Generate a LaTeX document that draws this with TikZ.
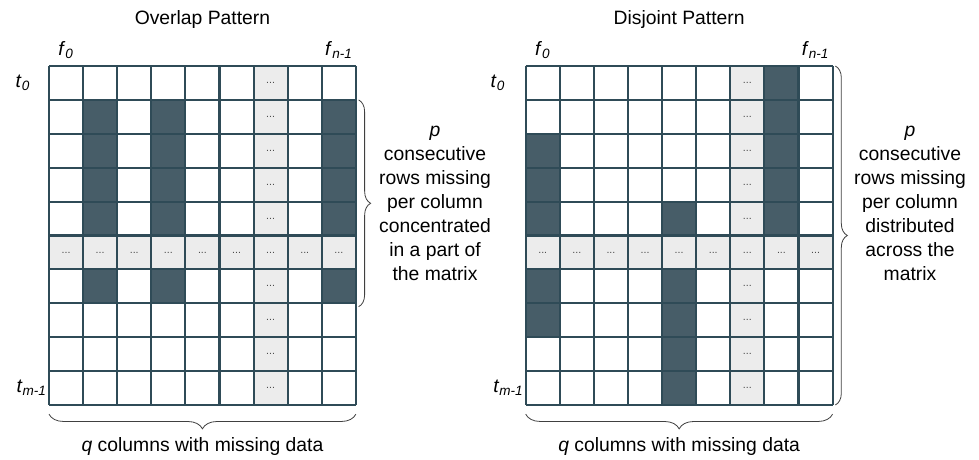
\documentclass[tikz,border=0pt]{standalone}
\usepackage{fontspec}
\setmainfont{Liberation Sans}
\usetikzlibrary{decorations.pathreplacing}

\definecolor{gridline}{HTML}{2F4B57}
\definecolor{gapfill}{HTML}{475D68}
\definecolor{dotfill}{HTML}{ECECEC}

\tikzset{
  gridstroke/.style={draw=gridline, line width=1.6pt},
  gapcell/.style={fill=gapfill},
  dotcell/.style={fill=dotfill},
  dotlabel/.style={font=\fontsize{8}{9}\selectfont, text=black!70, inner sep=0pt},
  labeltext/.style={font=\fontsize{14.5}{18}\selectfont, inner sep=0pt},
  bracebar/.style={draw=black!75, line width=0.6pt, decorate, decoration={brace, amplitude=#1}},
  bracebar/.default=9pt,
}

\begin{document}
\begin{tikzpicture}[x=0.75pt,y=0.75pt,yscale=-1,xscale=1]
\useasboundingbox (0,0) rectangle (979,460);

%Grid: Overlap Pattern
\begin{scope}[shift={(49,66)}, x=25.575pt, y=25.425pt]
\fill[white] (0,0) rectangle (9,10);
\fill[dotcell] (6,0) rectangle (7,10);
\fill[dotcell] (0,5) rectangle (9,6);
\foreach \c/\r in {1/1,1/2,1/3,1/4,1/6,3/1,3/2,3/3,3/4,3/6,8/1,8/2,8/3,8/4,8/6}
  \fill[gapcell] (\c,\r) rectangle ++(1,1);
\foreach \r in {0,...,9}
  \node[dotlabel] (ovdotcol\r) at (6.5,\r+0.5) {...};
\foreach \c in {0,1,2,3,4,5,7,8}
  \node[dotlabel] (ovdotrow\c) at (\c+0.5,5.5) {...};
\foreach \i in {0,...,9}
  \draw[gridstroke] (\i,0) -- (\i,10);
\foreach \j in {0,...,10}
  \draw[gridstroke] (0,\j) -- (9,\j);

% Text Node
\node[labeltext] (ovtitle) at (4.5,-1.36) {Overlap Pattern};
\node[labeltext] (ovfirstcol) at (0.5,-0.47) {\textit{f}\textsubscript{\textit{0}}};
\node[labeltext] (ovlastcol) at (8.5,-0.47) {\textit{f}\textsubscript{\textit{n-1}}};
\node[labeltext, anchor=east] (ovfirstrow) at (-0.55,0.5) {\textit{t}\textsubscript{\textit{0}}};
\node[labeltext, anchor=east] (ovlastrow) at (-0.06,9.5) {\textit{t}\textsubscript{\textit{m-1}}};

%Braces
\coordinate (ovsidetop) at (9.08,1);
\coordinate (ovsidebot) at (9.08,7.1);
\coordinate (ovbotleft) at (0,10.27);
\coordinate (ovbotright) at (9,10.27);
\draw[bracebar] (ovsidetop) -- (ovsidebot);
\draw[bracebar=11pt] (ovbotright) -- (ovbotleft);
\node[labeltext, align=center] (ovnote) at (11.32,4.05)
  {\textit{p}\\consecutive\\rows missing\\per column\\concentrated\\in a part of\\the matrix};
\node[labeltext] (ovcols) at (4.5,11.22) {\textit{q} columns with missing data};
\end{scope}

%Grid: Disjoint Pattern
\begin{scope}[shift={(525.7,66)}, x=25.575pt, y=25.425pt]
\fill[white] (0,0) rectangle (9,10);
\fill[dotcell] (6,0) rectangle (7,10);
\fill[dotcell] (0,5) rectangle (9,6);
\foreach \c/\r in {0/2,0/3,0/4,0/6,0/7,4/4,4/6,4/7,4/8,4/9,7/0,7/1,7/2,7/3,7/4}
  \fill[gapcell] (\c,\r) rectangle ++(1,1);
\foreach \r in {0,...,9}
  \node[dotlabel] (djdotcol\r) at (6.5,\r+0.5) {...};
\foreach \c in {0,1,2,3,4,5,7,8}
  \node[dotlabel] (djdotrow\c) at (\c+0.5,5.5) {...};
\foreach \i in {0,...,9}
  \draw[gridstroke] (\i,0) -- (\i,10);
\foreach \j in {0,...,10}
  \draw[gridstroke] (0,\j) -- (9,\j);

% Text Node
\node[labeltext] (djtitle) at (4.5,-1.36) {Disjoint Pattern};
\node[labeltext] (djfirstcol) at (0.5,-0.47) {\textit{f}\textsubscript{\textit{0}}};
\node[labeltext] (djlastcol) at (8.5,-0.47) {\textit{f}\textsubscript{\textit{n-1}}};
\node[labeltext, anchor=east] (djfirstrow) at (-0.6,0.5) {\textit{t}\textsubscript{\textit{0}}};
\node[labeltext, anchor=east] (djlastrow) at (-0.06,9.5) {\textit{t}\textsubscript{\textit{m-1}}};

%Braces
\coordinate (djsidetop) at (9.08,0);
\coordinate (djsidebot) at (9.08,10);
\coordinate (djbotleft) at (0,10.27);
\coordinate (djbotright) at (9,10.27);
\draw[bracebar] (djsidetop) -- (djsidebot);
\draw[bracebar=11pt] (djbotright) -- (djbotleft);
\node[labeltext, align=center] (djnote) at (11.27,4.05)
  {\textit{p}\\consecutive\\rows missing\\per column\\distributed\\across the\\matrix};
\node[labeltext] (djcols) at (4.5,11.22) {\textit{q} columns with missing data};
\end{scope}

\end{tikzpicture}
\end{document}
